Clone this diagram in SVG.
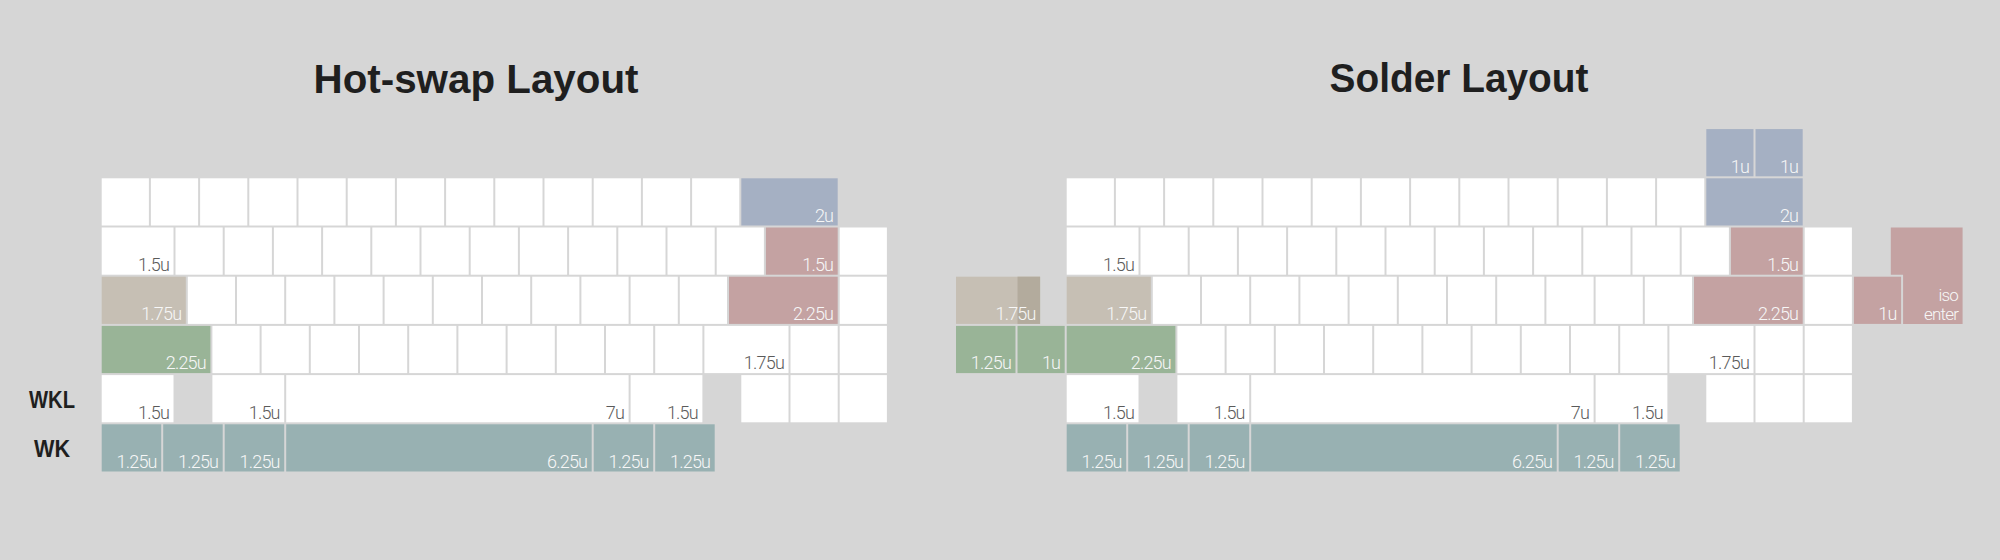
<svg xmlns="http://www.w3.org/2000/svg" width="2000" height="560" viewBox="0 0 2000 560">
<style>
rect,path{stroke:none}
.k{fill:#ffffff}
.b{fill:#a5b0c3}
.p{fill:#c4a2a2}
.g{fill:#99b497}
.t{fill:#98b1b2}
.c{fill:#c6bfb4}
.cd{fill:#b3ab9d}
text.l,text.w{font-family:Roboto,"Liberation Sans",Arial,sans-serif;font-weight:300;font-size:18px;letter-spacing:-0.8px;text-anchor:end}
text.l{fill:#5a5a5a}
text.w{fill:#f7f7f7}
text.s{font-size:17px}
.title{font-family:"Liberation Sans",Arial,sans-serif;font-weight:bold;font-size:41px;fill:#1f1f1f;text-anchor:middle}
.side{font-family:"Liberation Sans",Arial,sans-serif;font-weight:bold;font-size:24px;fill:#1f1f1f;text-anchor:middle}
</style>
<rect x="0" y="0" width="2000" height="560" fill="#d6d6d6"/>

<text class="title" x="476" y="93" textLength="325" lengthAdjust="spacingAndGlyphs">Hot-swap Layout</text>
<text class="title" x="1459" y="92" textLength="259" lengthAdjust="spacingAndGlyphs">Solder Layout</text>
<text class="side" x="52" y="408" textLength="46" lengthAdjust="spacingAndGlyphs">WKL</text>
<text class="side" x="52" y="457" textLength="36" lengthAdjust="spacingAndGlyphs">WK</text>

<g id="hotswap" transform="translate(101.7,178.3)">
  <g id="hs-row1">
    <rect class="k" x="0" y="0" width="47.2" height="47.2"/>
    <rect class="k" x="49.2" y="0" width="47.2" height="47.2"/>
    <rect class="k" x="98.4" y="0" width="47.2" height="47.2"/>
    <rect class="k" x="147.6" y="0" width="47.2" height="47.2"/>
    <rect class="k" x="196.8" y="0" width="47.2" height="47.2"/>
    <rect class="k" x="246" y="0" width="47.2" height="47.2"/>
    <rect class="k" x="295.2" y="0" width="47.2" height="47.2"/>
    <rect class="k" x="344.4" y="0" width="47.2" height="47.2"/>
    <rect class="k" x="393.6" y="0" width="47.2" height="47.2"/>
    <rect class="k" x="442.8" y="0" width="47.2" height="47.2"/>
    <rect class="k" x="492" y="0" width="47.2" height="47.2"/>
    <rect class="k" x="541.2" y="0" width="47.2" height="47.2"/>
    <rect class="k" x="590.4" y="0" width="47.2" height="47.2"/>
    <rect class="b" x="639.6" y="0" width="96.4" height="47.2"/>
    <text class="w" x="731.5" y="43.5">2u</text>
  </g>
  <g id="hs-row2">
    <rect class="k" x="0" y="49.2" width="71.8" height="47.2"/>
    <text class="l" x="67.3" y="92.7">1.5u</text>
    <rect class="k" x="73.8" y="49.2" width="47.2" height="47.2"/>
    <rect class="k" x="123" y="49.2" width="47.2" height="47.2"/>
    <rect class="k" x="172.2" y="49.2" width="47.2" height="47.2"/>
    <rect class="k" x="221.4" y="49.2" width="47.2" height="47.2"/>
    <rect class="k" x="270.6" y="49.2" width="47.2" height="47.2"/>
    <rect class="k" x="319.8" y="49.2" width="47.2" height="47.2"/>
    <rect class="k" x="369" y="49.2" width="47.2" height="47.2"/>
    <rect class="k" x="418.2" y="49.2" width="47.2" height="47.2"/>
    <rect class="k" x="467.4" y="49.2" width="47.2" height="47.2"/>
    <rect class="k" x="516.6" y="49.2" width="47.2" height="47.2"/>
    <rect class="k" x="565.8" y="49.2" width="47.2" height="47.2"/>
    <rect class="k" x="615" y="49.2" width="47.2" height="47.2"/>
    <rect class="p" x="664.2" y="49.2" width="71.8" height="47.2"/>
    <text class="w" x="731.5" y="92.7">1.5u</text>
    <rect class="k" x="738" y="49.2" width="47.2" height="47.2"/>
  </g>
  <g id="hs-row3">
    <rect class="c" x="0" y="98.4" width="84.1" height="47.2"/>
    <text class="w" x="79.6" y="141.9">1.75u</text>
    <rect class="k" x="86.1" y="98.4" width="47.2" height="47.2"/>
    <rect class="k" x="135.3" y="98.4" width="47.2" height="47.2"/>
    <rect class="k" x="184.5" y="98.4" width="47.2" height="47.2"/>
    <rect class="k" x="233.7" y="98.4" width="47.2" height="47.2"/>
    <rect class="k" x="282.9" y="98.4" width="47.2" height="47.2"/>
    <rect class="k" x="332.1" y="98.4" width="47.2" height="47.2"/>
    <rect class="k" x="381.3" y="98.4" width="47.2" height="47.2"/>
    <rect class="k" x="430.5" y="98.4" width="47.2" height="47.2"/>
    <rect class="k" x="479.7" y="98.4" width="47.2" height="47.2"/>
    <rect class="k" x="528.9" y="98.4" width="47.2" height="47.2"/>
    <rect class="k" x="578.1" y="98.4" width="47.2" height="47.2"/>
    <rect class="p" x="627.3" y="98.4" width="108.7" height="47.2"/>
    <text class="w" x="731.5" y="141.9">2.25u</text>
    <rect class="k" x="738" y="98.4" width="47.2" height="47.2"/>
  </g>
  <g id="hs-row4">
    <rect class="g" x="0" y="147.6" width="108.7" height="47.2"/>
    <text class="w" x="104.2" y="191.1">2.25u</text>
    <rect class="k" x="110.7" y="147.6" width="47.2" height="47.2"/>
    <rect class="k" x="159.9" y="147.6" width="47.2" height="47.2"/>
    <rect class="k" x="209.1" y="147.6" width="47.2" height="47.2"/>
    <rect class="k" x="258.3" y="147.6" width="47.2" height="47.2"/>
    <rect class="k" x="307.5" y="147.6" width="47.2" height="47.2"/>
    <rect class="k" x="356.7" y="147.6" width="47.2" height="47.2"/>
    <rect class="k" x="405.9" y="147.6" width="47.2" height="47.2"/>
    <rect class="k" x="455.1" y="147.6" width="47.2" height="47.2"/>
    <rect class="k" x="504.3" y="147.6" width="47.2" height="47.2"/>
    <rect class="k" x="553.5" y="147.6" width="47.2" height="47.2"/>
    <rect class="k" x="602.7" y="147.6" width="84.1" height="47.2"/>
    <text class="l" x="682.3" y="191.1">1.75u</text>
    <rect class="k" x="688.8" y="147.6" width="47.2" height="47.2"/>
    <rect class="k" x="738" y="147.6" width="47.2" height="47.2"/>
  </g>
  <g id="hs-row5">
    <rect class="k" x="0" y="196.8" width="71.8" height="47.2"/>
    <text class="l" x="67.3" y="240.3">1.5u</text>
    <rect class="k" x="110.7" y="196.8" width="71.8" height="47.2"/>
    <text class="l" x="178" y="240.3">1.5u</text>
    <rect class="k" x="184.5" y="196.8" width="342.4" height="47.2"/>
    <text class="l" x="522.4" y="240.3">7u</text>
    <rect class="k" x="528.9" y="196.8" width="71.8" height="47.2"/>
    <text class="l" x="596.2" y="240.3">1.5u</text>
    <rect class="k" x="639.6" y="196.8" width="47.2" height="47.2"/>
    <rect class="k" x="688.8" y="196.8" width="47.2" height="47.2"/>
    <rect class="k" x="738" y="196.8" width="47.2" height="47.2"/>
  </g>
  <g id="hs-row6">
    <rect class="t" x="0" y="246" width="59.5" height="47.2"/>
    <text class="w" x="55" y="289.5">1.25u</text>
    <rect class="t" x="61.5" y="246" width="59.5" height="47.2"/>
    <text class="w" x="116.5" y="289.5">1.25u</text>
    <rect class="t" x="123" y="246" width="59.5" height="47.2"/>
    <text class="w" x="178" y="289.5">1.25u</text>
    <rect class="t" x="184.5" y="246" width="305.5" height="47.2"/>
    <text class="w" x="485.5" y="289.5">6.25u</text>
    <rect class="t" x="492" y="246" width="59.5" height="47.2"/>
    <text class="w" x="547" y="289.5">1.25u</text>
    <rect class="t" x="553.5" y="246" width="59.5" height="47.2"/>
    <text class="w" x="608.5" y="289.5">1.25u</text>
  </g>
</g>

<g id="solder" transform="translate(1066.7,178.3)">
  <g id="sd-row0">
    <rect class="b" x="639.6" y="-49.2" width="47.2" height="47.2"/>
    <text class="w" x="682.3" y="-5.7">1u</text>
    <rect class="b" x="688.8" y="-49.2" width="47.2" height="47.2"/>
    <text class="w" x="731.5" y="-5.7">1u</text>
  </g>
  <g id="sd-row1">
    <rect class="k" x="0" y="0" width="47.2" height="47.2"/>
    <rect class="k" x="49.2" y="0" width="47.2" height="47.2"/>
    <rect class="k" x="98.4" y="0" width="47.2" height="47.2"/>
    <rect class="k" x="147.6" y="0" width="47.2" height="47.2"/>
    <rect class="k" x="196.8" y="0" width="47.2" height="47.2"/>
    <rect class="k" x="246" y="0" width="47.2" height="47.2"/>
    <rect class="k" x="295.2" y="0" width="47.2" height="47.2"/>
    <rect class="k" x="344.4" y="0" width="47.2" height="47.2"/>
    <rect class="k" x="393.6" y="0" width="47.2" height="47.2"/>
    <rect class="k" x="442.8" y="0" width="47.2" height="47.2"/>
    <rect class="k" x="492" y="0" width="47.2" height="47.2"/>
    <rect class="k" x="541.2" y="0" width="47.2" height="47.2"/>
    <rect class="k" x="590.4" y="0" width="47.2" height="47.2"/>
    <rect class="b" x="639.6" y="0" width="96.4" height="47.2"/>
    <text class="w" x="731.5" y="43.5">2u</text>
  </g>
  <g id="sd-row2">
    <rect class="k" x="0" y="49.2" width="71.8" height="47.2"/>
    <text class="l" x="67.3" y="92.7">1.5u</text>
    <rect class="k" x="73.8" y="49.2" width="47.2" height="47.2"/>
    <rect class="k" x="123" y="49.2" width="47.2" height="47.2"/>
    <rect class="k" x="172.2" y="49.2" width="47.2" height="47.2"/>
    <rect class="k" x="221.4" y="49.2" width="47.2" height="47.2"/>
    <rect class="k" x="270.6" y="49.2" width="47.2" height="47.2"/>
    <rect class="k" x="319.8" y="49.2" width="47.2" height="47.2"/>
    <rect class="k" x="369" y="49.2" width="47.2" height="47.2"/>
    <rect class="k" x="418.2" y="49.2" width="47.2" height="47.2"/>
    <rect class="k" x="467.4" y="49.2" width="47.2" height="47.2"/>
    <rect class="k" x="516.6" y="49.2" width="47.2" height="47.2"/>
    <rect class="k" x="565.8" y="49.2" width="47.2" height="47.2"/>
    <rect class="k" x="615" y="49.2" width="47.2" height="47.2"/>
    <rect class="p" x="664.2" y="49.2" width="71.8" height="47.2"/>
    <text class="w" x="731.5" y="92.7">1.5u</text>
    <rect class="k" x="738" y="49.2" width="47.2" height="47.2"/>
  </g>
  <g id="sd-row3">
    <rect class="c" x="-110.7" y="98.4" width="84.1" height="47.2"/>
    <rect class="cd" x="-49.2" y="98.4" width="22.6" height="47.2"/>
    <text class="w" x="-31.1" y="141.9">1.75u</text>
    <rect class="c" x="0" y="98.4" width="84.1" height="47.2"/>
    <text class="w" x="79.6" y="141.9">1.75u</text>
    <rect class="k" x="86.1" y="98.4" width="47.2" height="47.2"/>
    <rect class="k" x="135.3" y="98.4" width="47.2" height="47.2"/>
    <rect class="k" x="184.5" y="98.4" width="47.2" height="47.2"/>
    <rect class="k" x="233.7" y="98.4" width="47.2" height="47.2"/>
    <rect class="k" x="282.9" y="98.4" width="47.2" height="47.2"/>
    <rect class="k" x="332.1" y="98.4" width="47.2" height="47.2"/>
    <rect class="k" x="381.3" y="98.4" width="47.2" height="47.2"/>
    <rect class="k" x="430.5" y="98.4" width="47.2" height="47.2"/>
    <rect class="k" x="479.7" y="98.4" width="47.2" height="47.2"/>
    <rect class="k" x="528.9" y="98.4" width="47.2" height="47.2"/>
    <rect class="k" x="578.1" y="98.4" width="47.2" height="47.2"/>
    <rect class="p" x="627.3" y="98.4" width="108.7" height="47.2"/>
    <text class="w" x="731.5" y="141.9">2.25u</text>
    <rect class="k" x="738" y="98.4" width="47.2" height="47.2"/>
    <rect class="p" x="787.2" y="98.4" width="47.2" height="47.2"/>
    <text class="w" x="829.9" y="141.9">1u</text>
    <path class="p" d="M824.1,49.2 H895.9 V145.6 H836.4 V96.4 H824.1 Z"/>
    <text class="w s" x="891.4" y="122.5">iso</text>
    <text class="w s" x="891.4" y="141.9">enter</text>
  </g>
  <g id="sd-row4">
    <rect class="g" x="-110.7" y="147.6" width="59.5" height="47.2"/>
    <text class="w" x="-55.7" y="191.1">1.25u</text>
    <rect class="g" x="-49.2" y="147.6" width="47.2" height="47.2"/>
    <text class="w" x="-6.5" y="191.1">1u</text>
    <rect class="g" x="0" y="147.6" width="108.7" height="47.2"/>
    <text class="w" x="104.2" y="191.1">2.25u</text>
    <rect class="k" x="110.7" y="147.6" width="47.2" height="47.2"/>
    <rect class="k" x="159.9" y="147.6" width="47.2" height="47.2"/>
    <rect class="k" x="209.1" y="147.6" width="47.2" height="47.2"/>
    <rect class="k" x="258.3" y="147.6" width="47.2" height="47.2"/>
    <rect class="k" x="307.5" y="147.6" width="47.2" height="47.2"/>
    <rect class="k" x="356.7" y="147.6" width="47.2" height="47.2"/>
    <rect class="k" x="405.9" y="147.6" width="47.2" height="47.2"/>
    <rect class="k" x="455.1" y="147.6" width="47.2" height="47.2"/>
    <rect class="k" x="504.3" y="147.6" width="47.2" height="47.2"/>
    <rect class="k" x="553.5" y="147.6" width="47.2" height="47.2"/>
    <rect class="k" x="602.7" y="147.6" width="84.1" height="47.2"/>
    <text class="l" x="682.3" y="191.1">1.75u</text>
    <rect class="k" x="688.8" y="147.6" width="47.2" height="47.2"/>
    <rect class="k" x="738" y="147.6" width="47.2" height="47.2"/>
  </g>
  <g id="sd-row5">
    <rect class="k" x="0" y="196.8" width="71.8" height="47.2"/>
    <text class="l" x="67.3" y="240.3">1.5u</text>
    <rect class="k" x="110.7" y="196.8" width="71.8" height="47.2"/>
    <text class="l" x="178" y="240.3">1.5u</text>
    <rect class="k" x="184.5" y="196.8" width="342.4" height="47.2"/>
    <text class="l" x="522.4" y="240.3">7u</text>
    <rect class="k" x="528.9" y="196.8" width="71.8" height="47.2"/>
    <text class="l" x="596.2" y="240.3">1.5u</text>
    <rect class="k" x="639.6" y="196.8" width="47.2" height="47.2"/>
    <rect class="k" x="688.8" y="196.8" width="47.2" height="47.2"/>
    <rect class="k" x="738" y="196.8" width="47.2" height="47.2"/>
  </g>
  <g id="sd-row6">
    <rect class="t" x="0" y="246" width="59.5" height="47.2"/>
    <text class="w" x="55" y="289.5">1.25u</text>
    <rect class="t" x="61.5" y="246" width="59.5" height="47.2"/>
    <text class="w" x="116.5" y="289.5">1.25u</text>
    <rect class="t" x="123" y="246" width="59.5" height="47.2"/>
    <text class="w" x="178" y="289.5">1.25u</text>
    <rect class="t" x="184.5" y="246" width="305.5" height="47.2"/>
    <text class="w" x="485.5" y="289.5">6.25u</text>
    <rect class="t" x="492" y="246" width="59.5" height="47.2"/>
    <text class="w" x="547" y="289.5">1.25u</text>
    <rect class="t" x="553.5" y="246" width="59.5" height="47.2"/>
    <text class="w" x="608.5" y="289.5">1.25u</text>
  </g>
</g>
</svg>
